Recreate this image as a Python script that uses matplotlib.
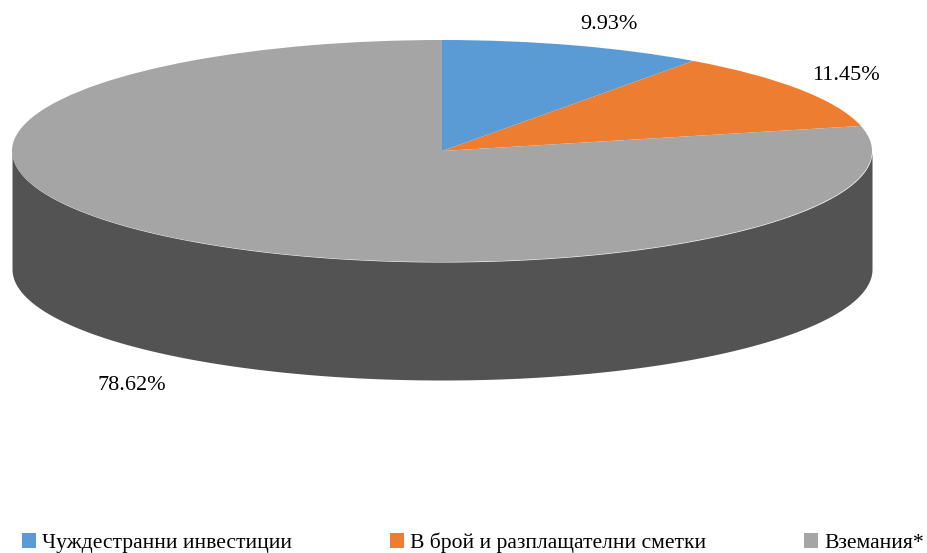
import numpy as np
import matplotlib; matplotlib.use("Agg")
import matplotlib.pyplot as plt

labels = ["Чуждестранни инвестиции", "В брой и разплащателни сметки", "Вземания*"]
values = [9.93, 11.45, 78.62]
value_labels = ["9.93%", "11.45%", "78.62%"]
colors = ["#5B9BD5", "#ED7D31", "#A5A5A5"]
side_color = "#535353"

W, H = 927, 553
CX, CY = 442, 151    # centre of the pie top, pixels
RX, RY = 430, 111    # ellipse radii, pixels
DEPTH = 118 / RY     # height of the side wall in pie radii

plt.rcParams["font.family"] = ["Liberation Serif", "DejaVu Serif"]
fig = plt.figure(figsize=(W / 100, H / 100), dpi=100)
ax = fig.add_axes([0, 0, 1, 1])

# side wall: lower half of the ellipse shifted down
t = np.linspace(np.pi, 2 * np.pi, 300)
ax.fill_between(np.cos(t), np.sin(t), np.sin(t) - DEPTH, color=side_color, lw=0)

wedges, _ = ax.pie(values, colors=colors, startangle=90, counterclock=False,
                   radius=1, center=(0, 0), wedgeprops=dict(lw=0))

# the pie is squashed by giving x and y different scales
ax.set_aspect("auto")
ax.set_xlim(-CX / RX, (W - CX) / RX)
ax.set_ylim(-(H - CY) / RY, CY / RY)
ax.axis("off")

def to_data(px, py):
    return (px - CX) / RX, (CY - py) / RY

label_pos = [(609, 24), (846, 75), (132, 385)]
for txt, (px, py) in zip(value_labels, label_pos):
    x, y = to_data(px, py)
    ax.text(x, y, txt, ha="center", va="center", fontsize=16, color="#000000")

ax.legend(wedges, labels, ncol=3, loc="lower left", bbox_to_anchor=(22 / W, 0),
          bbox_transform=fig.transFigure, frameon=False, fontsize=15.6,
          handlelength=0.64, handleheight=0.64, handletextpad=0.3,
          columnspacing=4.5, borderpad=0, borderaxespad=0)

fig.savefig("out.png", dpi=100)
